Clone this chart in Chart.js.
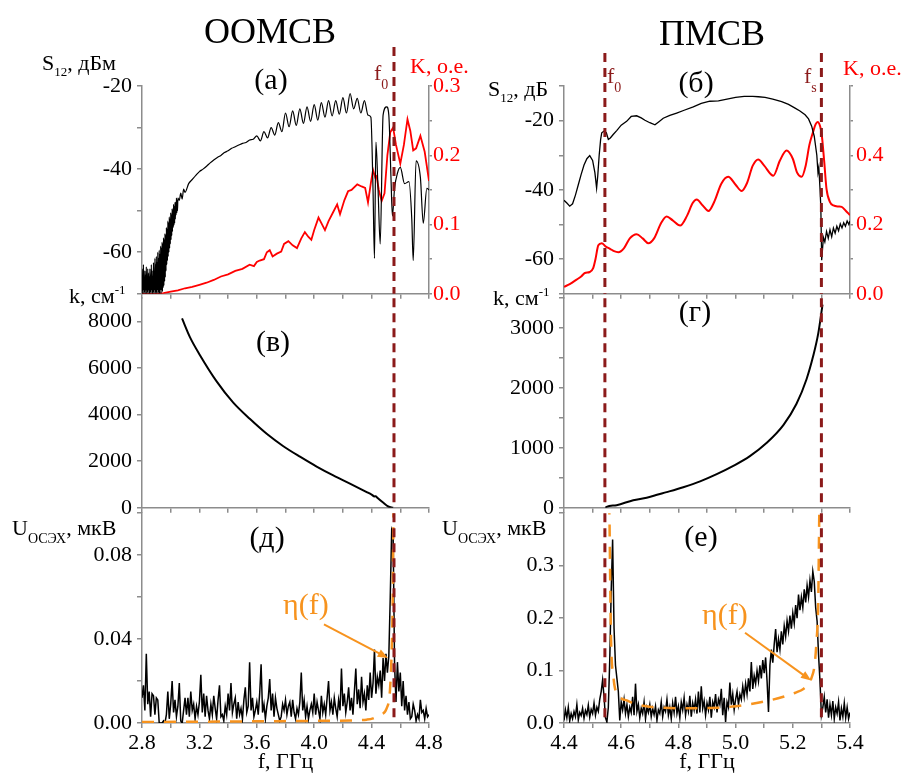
<!DOCTYPE html>
<html>
<head>
<meta charset="utf-8">
<script src="https://cdn.jsdelivr.net/npm/chart.js@4.4.1/dist/chart.umd.min.js"></script>
<style>
  body { margin: 0; background: #fff; width: 909px; height: 775px; position: relative; overflow: hidden;
         font-family: "Liberation Serif", "Times New Roman", serif; }
  canvas { position: absolute; }
  .t { position: absolute; white-space: nowrap; line-height: 1; font-size: 22px; color: #000; }
  .red { color: #ff0000; }
  .dr { color: #8b1a1a; }
  .or { color: #f7931e; }
  .sb { font-size: 13px; position: relative; top: 6px; }
  .sb0 { font-size: 14px; position: relative; top: 9px; }
  .sbU { font-size: 14px; position: relative; top: 8px; }
  .sp { font-size: 13px; position: relative; top: -9px; }
  .big { font-size: 36px; width: 200px; text-align: center; }
  .lt { font-size: 30px; width: 60px; text-align: center; }
  .eta { font-size: 30px; }
</style>
</head>
<body>
<canvas id="cA"></canvas>
<canvas id="cV"></canvas>
<canvas id="cD"></canvas>
<canvas id="cB"></canvas>
<canvas id="cG"></canvas>
<canvas id="cE"></canvas>

<div class="t big" style="left:170px;top:13px">ООМСВ</div>
<div class="t big" style="left:612px;top:15px">ПМСВ</div>

<div class="t" style="left:42px;top:52px">S<span class="sb">12</span>, дБм</div>
<div class="t red" style="left:410px;top:55px">K, о.е.</div>
<div class="t dr" style="left:374px;top:62px">f<span class="sb0">0</span></div>
<div class="t" style="left:488px;top:78px">S<span class="sb">12</span>, дБ</div>
<div class="t dr" style="left:607px;top:65px">f<span class="sb0">0</span></div>
<div class="t dr" style="left:804px;top:65px">f<span class="sb0">s</span></div>
<div class="t red" style="left:843px;top:57px">K, о.е.</div>
<div class="t" style="left:69px;top:285px">k, см<span class="sp">-1</span></div>
<div class="t" style="left:493px;top:287px">k, см<span class="sp">-1</span></div>
<div class="t" style="left:12px;top:517px">U<span class="sbU">ОСЭХ</span>, мкВ</div>
<div class="t" style="left:442px;top:517px">U<span class="sbU">ОСЭХ</span>, мкВ</div>

<div class="t lt" style="left:241px;top:64px">(а)</div>
<div class="t lt" style="left:666px;top:67px">(б)</div>
<div class="t lt" style="left:243px;top:326px">(в)</div>
<div class="t lt" style="left:665px;top:296px">(г)</div>
<div class="t lt" style="left:237px;top:522px">(д)</div>
<div class="t lt" style="left:671px;top:521px">(е)</div>

<div class="t or eta" style="left:283px;top:589px">η(f)</div>
<div class="t or eta" style="left:702px;top:599px">η(f)</div>

<script>
// ---------- data: ООМСВ (left column) ----------
const f0Left = 4.556;

// (а) S12, дБм — noisy start (grid 2.80 ... 3.05, step 0.0025)
const aNoiseStart = 2.80, aNoiseStep = 0.0025;
const aNoise = [
  -64, -70, -66, -69, -63, -70, -67, -69.5, -64.5, -70,
  -65.5, -69, -63.5, -70, -66.5, -69.5, -64, -70, -65, -69,
  -66, -70, -64, -69.5, -65.5, -70, -63, -69, -66, -70,
  -64.5, -69.5, -62.5, -70, -65, -69, -61.5, -70, -63, -69.5,
  -61, -70, -62.5, -69, -60, -70, -61.5, -69.5, -59.5, -70,
  -60.5, -69, -58.5, -70, -59, -69, -57.5, -69.5, -58, -68.5,
  -56.5, -68, -57, -67, -55.5, -66, -56, -64.5, -54, -63,
  -54.5, -62, -52.5, -61, -53, -60, -51.5, -59, -52, -58,
  -50.5, -57, -51, -56, -49.5, -55, -50, -54, -48.5, -53.5,
  -49, -53, -48, -52, -48, -51, -47, -50.5, -47.5, -50,
  -47
];
// (а) S12, дБм — rest of the trace
const aFreq = [
  3.060, 3.070, 3.080, 3.090, 3.100, 3.125, 3.150, 3.175, 3.200,
  3.225, 3.250, 3.275, 3.300, 3.325, 3.350, 3.375, 3.400, 3.425, 3.450,
  3.475, 3.500, 3.525, 3.550, 3.575, 3.600, 3.625, 3.650, 3.675, 3.700,
  3.725, 3.750, 3.775, 3.800, 3.825, 3.850, 3.875, 3.900, 3.925, 3.950,
  3.975, 4.000, 4.025, 4.050, 4.075, 4.100, 4.125, 4.150, 4.175, 4.200,
  4.225, 4.250, 4.275, 4.300, 4.325, 4.350, 4.375, 4.395, 4.410, 4.420,
  4.430, 4.445, 4.460, 4.480, 4.505, 4.520, 4.535, 4.545, 4.560, 4.580,
  4.600, 4.630, 4.660, 4.680, 4.690, 4.710, 4.740, 4.760, 4.785, 4.800
];
const aS12 = [
  -47.5, -45.8, -47.2, -44.8, -45.6, -43.5, -42.5, -41.5, -40.6,
  -40, -39.3, -38.5, -37.8, -37.2, -36.7, -36.0, -35.6, -35.0, -34.6,
  -34.2, -33.8, -33.6, -33.0, -32.8, -32.0, -33.2, -31.0, -32.5, -30.0,
  -31.8, -28.8, -31.0, -26.5, -29.8, -26.0, -29.5, -25.5, -29.0, -25.0,
  -28.5, -24.5, -28.2, -24.0, -27.5, -23.5, -27.2, -23.5, -26.8, -22.8,
  -26.5, -21.8, -25.5, -23.0, -26.5, -23.5, -27.0, -27.5, -45, -61.5,
  -33.5, -45, -58, -27, -25, -27, -42, -51.3, -44.6, -41,
  -39.6, -43.5, -43, -52, -62, -38, -42, -53, -44.6, -45
];

// (а) K, о.е.
const aKFreq = [
  2.80, 2.85, 2.90, 2.95, 3.00, 3.05, 3.10, 3.15, 3.20, 3.25,
  3.30, 3.35, 3.40, 3.45, 3.50, 3.55, 3.58, 3.60, 3.62, 3.65,
  3.67, 3.69, 3.71, 3.74, 3.77, 3.79, 3.82, 3.85, 3.88, 3.91,
  3.935, 3.96, 3.98, 4.00, 4.03, 4.05, 4.075, 4.10, 4.13, 4.16,
  4.18, 4.21, 4.236, 4.26, 4.30, 4.33, 4.355, 4.375, 4.395, 4.41,
  4.425, 4.435, 4.45, 4.47, 4.49, 4.51, 4.53, 4.55, 4.57, 4.60,
  4.625, 4.65, 4.67, 4.69, 4.71, 4.74, 4.77, 4.80
];
const aK = [
  0, 0, 0, 0.001, 0.003, 0.005, 0.008, 0.010, 0.013, 0.016,
  0.020, 0.025, 0.028, 0.033, 0.036, 0.042, 0.040, 0.046, 0.048, 0.050,
  0.060, 0.063, 0.054, 0.058, 0.061, 0.072, 0.076, 0.070, 0.066, 0.080,
  0.089, 0.082, 0.078, 0.092, 0.110, 0.102, 0.092, 0.105, 0.117, 0.129,
  0.115, 0.135, 0.148, 0.150, 0.158, 0.155, 0.153, 0.132, 0.160, 0.179,
  0.168, 0.170, 0.150, 0.134, 0.145, 0.200, 0.233, 0.240, 0.215, 0.188,
  0.215, 0.252, 0.235, 0.207, 0.210, 0.228, 0.205, 0.163
];

// (в) k, см^-1
const vFreq = [3.079, 3.134, 3.204, 3.320, 3.436, 3.553, 3.669, 3.785, 3.901, 4.017,
               4.133, 4.249, 4.366, 4.400, 4.420, 4.428, 4.440, 4.480, 4.516, 4.550];
const vK = [8130, 7330, 6555, 5430, 4515, 3810, 3178, 2645, 2194, 1772,
            1392, 1041, 675, 565, 490, 500, 430, 225, 56, 0];

// (д) U, мкВ  (grid 2.80 ... 4.80, step 0.01)
const dStart = 2.80, dStep = 0.01;
const dU = [
  0.012, 0.018, 0.006, 0.033, 0.009, 0.015, 0.003, 0.014, 0.013, 0.004,
  0.012, 0.011, 0.000, 0.000, 0.000, 0.001, 0.000, 0.004, 0.015, 0.002,
  0.009, 0.020, 0.005, 0.011, 0.003, 0.008, 0.019, 0.001, 0.000, 0.006,
  0.012, 0.004, 0.012, 0.003, 0.015, 0.006, 0.009, 0.002, 0.008, 0.004,
  0.010, 0.023, 0.005, 0.014, 0.003, 0.013, 0.006, 0.002, 0.009, 0.004,
  0.013, 0.007, 0.002, 0.011, 0.018, 0.003, 0.004, 0.001, 0.008, 0.004,
  0.014, 0.006, 0.019, 0.005, 0.009, 0.012, 0.002, 0.010, 0.004, 0.007,
  0.002, 0.011, 0.017, 0.005, 0.008, 0.029, 0.006, 0.012, 0.003, 0.006,
  0.010, 0.004, 0.014, 0.028, 0.005, 0.009, 0.002, 0.008, 0.012, 0.021,
  0.006, 0.014, 0.003, 0.012, 0.007, 0.004, 0.001, 0.003, 0.009, 0.006,
  0.011, 0.004, 0.008, 0.010, 0.003, 0.011, 0.005, 0.002, 0.007, 0.004,
  0.010, 0.024, 0.006, 0.011, 0.003, 0.008, 0.002, 0.006, 0.009, 0.005,
  0.014, 0.004, 0.010, 0.006, 0.002, 0.013, 0.005, 0.009, 0.004, 0.012,
  0.020, 0.006, 0.010, 0.004, 0.012, 0.007, 0.003, 0.011, 0.006, 0.026,
  0.008, 0.014, 0.005, 0.010, 0.017, 0.006, 0.012, 0.004, 0.015, 0.026,
  0.009, 0.016, 0.007, 0.022, 0.010, 0.014, 0.006, 0.018, 0.011, 0.024,
  0.012, 0.019, 0.035, 0.014, 0.022, 0.018, 0.025, 0.012, 0.031, 0.020,
  0.033, 0.024, 0.032, 0.060, 0.092, 0.090, 0.028, 0.010, 0.029, 0.015,
  0.024, 0.008, 0.020, 0.006, 0.013, 0.004, 0.010, 0.002, 0.003, 0.009,
  0.006, 0.001, 0.004, 0.002, 0.011, 0.005, 0.006, 0.002, 0.007, 0.003,
  0.004
];
// (д) η(f)
const dEtaFreq = [2.80, 3.20, 3.60, 4.00, 4.25, 4.366, 4.41, 4.46, 4.505, 4.528, 4.540, 4.547, 4.551, 4.555];
const dEta = [0.0005, 0.0006, 0.0008, 0.0010, 0.0012, 0.0016, 0.0022, 0.004, 0.007, 0.0156, 0.0345, 0.058, 0.090, 0.112];

// ---------- data: ПМСВ (right column) ----------
const f0Right = 4.543, fsRight = 5.30;

// (б) S12, дБ
const bFreq = [
  4.400, 4.410, 4.420, 4.430, 4.440, 4.450, 4.460, 4.470, 4.480, 4.490,
  4.500, 4.508, 4.514, 4.518, 4.523, 4.528, 4.532, 4.540, 4.548, 4.555,
  4.562, 4.572, 4.585, 4.600, 4.619, 4.635, 4.654, 4.670, 4.683, 4.700,
  4.718, 4.732, 4.747, 4.770, 4.794, 4.820, 4.852, 4.880, 4.910, 4.940,
  4.970, 5.000, 5.030, 5.060, 5.080, 5.103, 5.130, 5.161, 5.185, 5.208,
  5.225, 5.243, 5.255, 5.266, 5.275, 5.284, 5.288, 5.291, 5.295, 5.298,
  5.301, 5.304, 5.307, 5.312, 5.318, 5.324, 5.330, 5.336, 5.342, 5.348,
  5.354, 5.360, 5.366, 5.372, 5.378, 5.384, 5.390, 5.396, 5.400
];
const bS12 = [
  -43.0, -43.8, -44.7, -44.0, -41.5, -38.5, -35.5, -32.8, -31.0, -30.1,
  -31.5, -35.0, -39.5, -36.0, -30.0, -25.5, -23.5, -23.0, -23.5, -25.4,
  -25.0, -24.0, -22.8, -21.3, -20.2, -18.8, -18.6, -19.2, -19.9, -20.6,
  -21.2, -20.3, -19.3, -18.5, -17.8, -17.0, -16.0, -15.0, -14.4, -14.3,
  -13.8, -13.3, -13.0, -13.0, -13.1, -13.3, -13.8, -14.5, -15.3, -16.4,
  -17.2, -18.3, -19.5, -21.6, -24.5, -30.0, -35.0, -33.5, -39.5, -45.0,
  -60.3, -57.0, -53.7, -55.0, -52.0, -54.0, -51.5, -53.5, -51.0, -52.5,
  -50.5, -51.8, -49.8, -51.0, -49.5, -50.5, -49.0, -50.0, -49.0
];

// (б) K, о.е.
const bKFreq = [
  4.400, 4.420, 4.444, 4.460, 4.473, 4.490, 4.502, 4.510, 4.520, 4.532,
  4.545, 4.561, 4.575, 4.590, 4.610, 4.630, 4.654, 4.675, 4.695, 4.715,
  4.740, 4.759, 4.780, 4.806, 4.830, 4.850, 4.864, 4.885, 4.905, 4.925,
  4.950, 4.974, 5.000, 5.021, 5.040, 5.060, 5.079, 5.100, 5.132, 5.155,
  5.178, 5.200, 5.215, 5.231, 5.245, 5.258, 5.270, 5.280, 5.287, 5.295,
  5.301, 5.310, 5.318, 5.330, 5.342, 5.360, 5.371, 5.385, 5.400
];
const bK = [
  0.020, 0.028, 0.041, 0.050, 0.060, 0.063, 0.074, 0.100, 0.140, 0.146,
  0.137, 0.130, 0.123, 0.120, 0.132, 0.160, 0.172, 0.160, 0.146, 0.160,
  0.205, 0.223, 0.212, 0.197, 0.225, 0.262, 0.272, 0.255, 0.239, 0.265,
  0.318, 0.338, 0.315, 0.297, 0.320, 0.370, 0.388, 0.370, 0.341, 0.385,
  0.414, 0.390, 0.350, 0.338, 0.370, 0.430, 0.465, 0.490, 0.496, 0.485,
  0.461, 0.380, 0.302, 0.265, 0.255, 0.252, 0.251, 0.240, 0.227
];

// (г) k, см^-1
const gFreq = [4.545, 4.549, 4.584, 4.642, 4.689, 4.759, 4.817, 4.876, 4.934, 4.992,
               5.050, 5.108, 5.167, 5.213, 5.248, 5.271, 5.289, 5.304];
const gK = [0, 16, 44, 126, 169, 262, 344, 442, 562, 700,
            863, 1082, 1382, 1737, 2147, 2529, 2912, 3393];

// (е) U, мкВ  (grid 4.400 ... 5.400, step 0.005)
const eStart = 4.40, eStep = 0.005;
const eU = [
  0.005, 0.025, 0.010, 0.030, 0.004, 0.018, 0.008, 0.022, 0.012, 0.035,
  0.006, 0.020, 0.014, 0.028, 0.009, 0.024, 0.016, 0.034, 0.011, 0.026,
  0.018, 0.038, 0.015, 0.030, 0.022, 0.045, 0.060, 0.082, 0.050, 0.010,
  0.002, 0.030, 0.120, 0.250, 0.350, 0.180, 0.110, 0.085, 0.060, 0.005,
  0.040, 0.025, 0.045, 0.018, 0.035, 0.012, 0.030, 0.020, 0.050, 0.015,
  0.075, 0.022, 0.035, 0.010, 0.028, 0.018, 0.040, 0.008, 0.030, 0.020,
  0.035, 0.012, 0.028, 0.016, 0.032, 0.005, 0.025, 0.018, 0.040, 0.012,
  0.030, 0.022, 0.045, 0.015, 0.030, 0.008, 0.038, 0.020, 0.050, 0.018,
  0.032, 0.010, 0.040, 0.025, 0.048, 0.015, 0.035, 0.022, 0.052, 0.012,
  0.038, 0.025, 0.045, 0.018, 0.060, 0.020, 0.070, 0.028, 0.042, 0.015,
  0.038, 0.025, 0.050, 0.010, 0.040, 0.030, 0.055, 0.020, 0.045, 0.035,
  0.065, 0.015, 0.048, 0.002, 0.040, 0.030, 0.077, 0.035, 0.055, 0.025,
  0.045, 0.060, 0.035, 0.055, 0.045, 0.070, 0.050, 0.075, 0.055, 0.085,
  0.060, 0.116, 0.065, 0.090, 0.075, 0.100, 0.080, 0.110, 0.085, 0.120,
  0.095, 0.125, 0.080, 0.021, 0.110, 0.140, 0.115, 0.150, 0.179, 0.135,
  0.160, 0.140, 0.175, 0.150, 0.185, 0.165, 0.195, 0.175, 0.205, 0.180,
  0.210, 0.190, 0.225, 0.200, 0.245, 0.215, 0.240, 0.220, 0.255, 0.230,
  0.262, 0.240, 0.272, 0.250, 0.289, 0.270, 0.220, 0.194, 0.130, 0.080,
  0.015, 0.030, 0.050, 0.020, 0.045, 0.010, 0.035, 0.015, 0.042, 0.008,
  0.030, 0.018, 0.040, 0.005, 0.028, 0.012, 0.038, 0.010, 0.030, 0.008,
  0.020
];
// (е) η(f)
const eEtaFreq = [4.556, 4.559, 4.561, 4.564, 4.573, 4.584, 4.600, 4.619, 4.650, 4.700,
                  4.750, 4.817, 4.934, 5.000, 5.050, 5.110, 5.167, 5.210, 5.237, 5.255,
                  5.266, 5.276, 5.283, 5.289, 5.291, 5.293];
const eEta = [0.42, 0.39, 0.295, 0.17, 0.087, 0.056, 0.047, 0.043, 0.036, 0.031,
              0.029, 0.028, 0.029, 0.032, 0.036, 0.042, 0.050, 0.058, 0.065, 0.075,
              0.087, 0.110, 0.157, 0.232, 0.326, 0.42];

// ---------- helpers ----------
const FONT = 'Liberation Serif';
const GREY = '#8c8c8c';
const RED = '#ff0000';
const DARKRED = '#8b1a1a';
const ORANGE = '#f7931e';

Chart.defaults.font.family = FONT;
Chart.defaults.font.size = 22;
Chart.defaults.color = '#000';

const xy = (xs, ys) => xs.map((x, i) => ({x: x, y: ys[i]}));
const grid = (start, step, ys) => ys.map((y, i) => ({x: +(start + i * step).toFixed(4), y: y}));

function labelEvery(origin, step, digits, hideAt) {
  return v => {
    if (hideAt !== undefined && Math.abs(v - hideAt) < 1e-9) return '';
    const r = (v - origin) / step;
    return Math.abs(r - Math.round(r)) < 1e-6 ? (+v).toFixed(digits) : '';
  };
}

const vlines = {
  id: 'vlines',
  afterDatasetsDraw(chart, args, opts) {
    if (!opts.values) return;
    const {ctx, chartArea, scales} = chart;
    ctx.save();
    ctx.strokeStyle = DARKRED;
    ctx.lineWidth = 3;
    ctx.setLineDash([9, 6]);
    for (const v of opts.values) {
      const px = scales.x.getPixelForValue(v);
      ctx.beginPath();
      ctx.moveTo(px, chartArea.top - (opts.above || 0));
      ctx.lineTo(px, chartArea.bottom);
      ctx.stroke();
    }
    ctx.restore();
  }
};

const arrows = {
  id: 'arrows',
  afterDatasetsDraw(chart, args, opts) {
    if (!opts.items) return;
    const {ctx, scales} = chart;
    ctx.save();
    ctx.strokeStyle = ORANGE;
    ctx.fillStyle = ORANGE;
    ctx.lineWidth = 2;
    for (const a of opts.items) {
      const x0 = scales.x.getPixelForValue(a.from[0]), y0 = scales.y.getPixelForValue(a.from[1]);
      const x1 = scales.x.getPixelForValue(a.to[0]), y1 = scales.y.getPixelForValue(a.to[1]);
      const ang = Math.atan2(y1 - y0, x1 - x0), L = 11;
      ctx.beginPath();
      ctx.moveTo(x0, y0);
      ctx.lineTo(x1 - 0.8 * L * Math.cos(ang), y1 - 0.8 * L * Math.sin(ang));
      ctx.stroke();
      ctx.beginPath();
      ctx.moveTo(x1, y1);
      ctx.lineTo(x1 - L * Math.cos(ang - 0.38), y1 - L * Math.sin(ang - 0.38));
      ctx.lineTo(x1 - L * Math.cos(ang + 0.38), y1 - L * Math.sin(ang + 0.38));
      ctx.closePath();
      ctx.fill();
    }
    ctx.restore();
  }
};

function axis(extra) {
  return Object.assign({
    type: 'linear',
    border: {color: GREY, width: 1.5},
    grid: {display: true, drawOnChartArea: false, drawTicks: true, tickLength: 5, color: GREY, lineWidth: 1.5}
  }, extra);
}

function panel(id, box, area, o) {
  const cv = document.getElementById(id);
  cv.width = box.w; cv.height = box.h;
  cv.style.left = box.x + 'px';
  cv.style.top = box.y + 'px';

  const scales = {
    x: axis({
      min: o.xMin, max: o.xMax,
      ticks: {display: !!o.xLabels, stepSize: o.xStep, autoSkip: false, maxRotation: 0, padding: 2,
              callback: labelEvery(o.xMin, o.xLabelStep, 1)},
      title: {display: !!o.xLabels, text: 'f, ГГц', font: {size: 22}, padding: {top: 0, bottom: 0}},
      afterFit: s => { s.height = box.y + box.h - area.b; }
    }),
    y: axis({
      position: 'left', min: o.y.min, max: o.y.max,
      ticks: {stepSize: o.y.step, padding: 5,
              callback: labelEvery(o.y.origin, o.y.label, o.y.digits, o.y.hideTop ? o.y.max : undefined)},
      afterFit: s => { s.width = area.l - box.x; }
    })
  };
  if (o.y1) {
    scales.y1 = axis({
      position: 'right', min: o.y1.min, max: o.y1.max,
      grid: {display: true, drawOnChartArea: false, drawTicks: true, tickLength: 3, color: GREY, lineWidth: 1.5},
      ticks: {stepSize: o.y1.step, padding: o.y1.pad, color: RED,
              callback: labelEvery(o.y1.origin, o.y1.label, o.y1.digits, o.y1.hideTop ? o.y1.max : undefined)},
      afterFit: s => { s.width = box.x + box.w - area.r; }
    });
  }

  return new Chart(cv, {
    type: 'line',
    data: {datasets: o.datasets},
    options: {
      responsive: false,
      animation: false,
      devicePixelRatio: 1,
      events: [],
      layout: {padding: {top: area.t - box.y, left: 0, bottom: 0, right: o.y1 ? 0 : box.x + box.w - area.r}},
      elements: {point: {radius: 0}, line: {tension: 0}},
      plugins: {
        legend: {display: false},
        tooltip: {enabled: false},
        vlines: {values: o.vlines, above: o.above || 0},
        arrows: {items: o.arrows}
      },
      scales: scales
    },
    plugins: [vlines, arrows]
  });
}

const line = (data, color, width, extra) =>
  Object.assign({data: data, borderColor: color, borderWidth: width, pointRadius: 0, fill: false}, extra || {});

// ---------- left column ----------
const L = {l: 142, r: 429};

panel('cA', {x: 0, y: 40, w: 475, h: 272}, {l: L.l, r: L.r, t: 86, b: 298}, {
  xMin: 2.8, xMax: 4.8, xStep: 0.2, xLabelStep: 0.4,
  y: {min: -70, max: -20, step: 10, origin: -20, label: 20, digits: 0},
  y1: {min: 0, max: 0.3, step: 0.05, origin: 0, label: 0.1, digits: 1, pad: 1},
  vlines: [f0Left], above: 39,
  datasets: [
    line(grid(aNoiseStart, aNoiseStep, aNoise).concat(xy(aFreq, aS12)), '#000', 1.2,
         {yAxisID: 'y', cubicInterpolationMode: 'monotone'}),
    line(xy(aKFreq, aK), RED, 1.8, {yAxisID: 'y1'})
  ]
});

panel('cV', {x: 0, y: 280, w: 475, h: 246}, {l: L.l, r: L.r, t: 298, b: 512}, {
  xMin: 2.8, xMax: 4.8, xStep: 0.2, xLabelStep: 0.4,
  y: {min: 0, max: 9000, step: 1000, origin: 0, label: 2000, digits: 0},
  vlines: [f0Left],
  datasets: [line(xy(vFreq, vK), '#000', 2, {cubicInterpolationMode: 'monotone'})]
});

panel('cD', {x: 0, y: 495, w: 475, h: 280}, {l: L.l, r: L.r, t: 512, b: 723}, {
  xMin: 2.8, xMax: 4.8, xStep: 0.2, xLabelStep: 0.4, xLabels: true,
  y: {min: 0, max: 0.1, step: 0.02, origin: 0, label: 0.04, digits: 2},
  vlines: [f0Left],
  arrows: [{from: [4.068, 0.047], to: [4.514, 0.031]}],
  datasets: [
    line(xy(dEtaFreq, dEta), ORANGE, 2.5, {borderDash: [12, 10], cubicInterpolationMode: 'monotone'}),
    line(grid(dStart, dStep, dU), '#000', 1.5)
  ]
});

// ---------- right column ----------
const R = {l: 564, r: 850};

panel('cB', {x: 440, y: 40, w: 469, h: 272}, {l: R.l, r: R.r, t: 86, b: 298}, {
  xMin: 4.4, xMax: 5.4, xStep: 0.1, xLabelStep: 0.2,
  y: {min: -70, max: -10, step: 10, origin: -20, label: 20, digits: 0},
  y1: {min: 0, max: 0.6, step: 0.1, origin: 0, label: 0.2, digits: 1, pad: 3, hideTop: true},
  vlines: [f0Right, fsRight], above: 33,
  datasets: [
    line(xy(bFreq, bS12), '#000', 1.3, {yAxisID: 'y'}),
    line(xy(bKFreq, bK), RED, 2, {yAxisID: 'y1', cubicInterpolationMode: 'monotone'})
  ]
});

panel('cG', {x: 440, y: 280, w: 469, h: 246}, {l: R.l, r: R.r, t: 298, b: 512}, {
  xMin: 4.4, xMax: 5.4, xStep: 0.1, xLabelStep: 0.2,
  y: {min: 0, max: 3500, step: 500, origin: 0, label: 1000, digits: 0},
  vlines: [f0Right, fsRight],
  datasets: [line(xy(gFreq, gK), '#000', 2, {cubicInterpolationMode: 'monotone'})]
});

panel('cE', {x: 440, y: 495, w: 469, h: 280}, {l: R.l, r: R.r, t: 512, b: 723}, {
  xMin: 4.4, xMax: 5.4, xStep: 0.1, xLabelStep: 0.2, xLabels: true,
  y: {min: 0, max: 0.4, step: 0.05, origin: 0, label: 0.1, digits: 1, hideTop: true},
  vlines: [f0Right, fsRight],
  arrows: [{from: [5.033, 0.172], to: [5.264, 0.081]}],
  datasets: [
    line(xy(eEtaFreq, eEta), ORANGE, 2.5, {borderDash: [12, 10], cubicInterpolationMode: 'monotone'}),
    line(grid(eStart, eStep, eU), '#000', 1.5)
  ]
});
</script>
</body>
</html>
